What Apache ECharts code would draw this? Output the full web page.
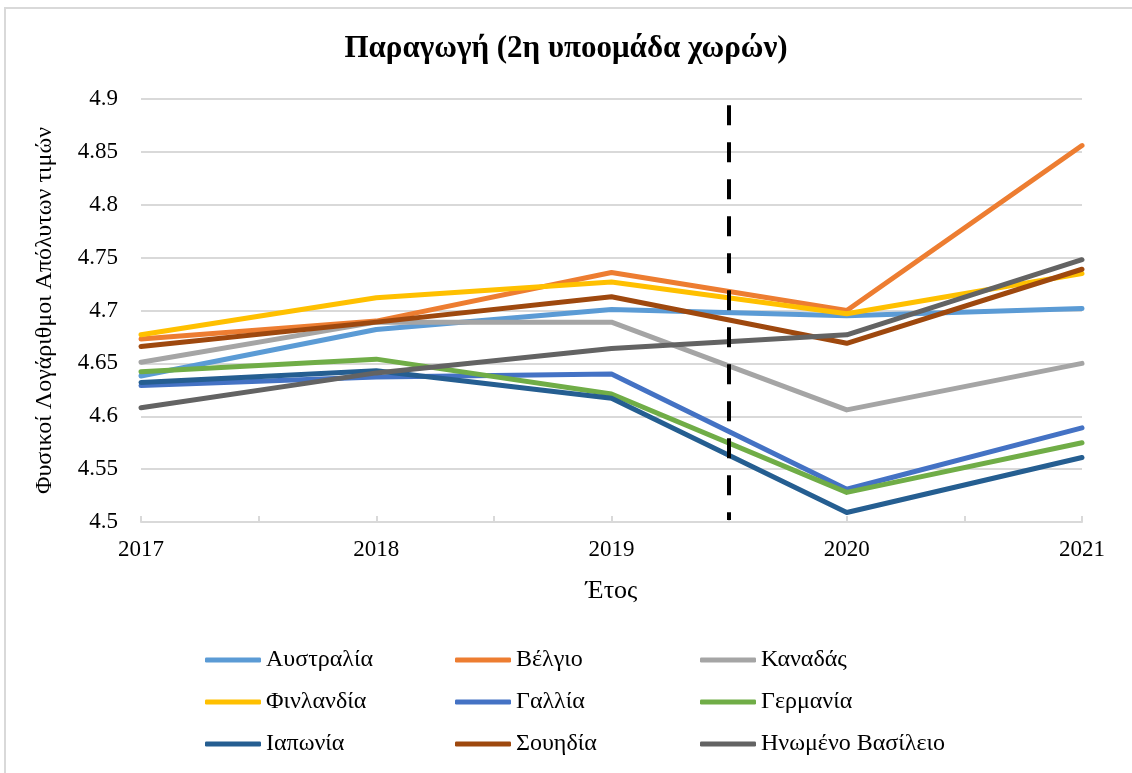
<!DOCTYPE html>
<html>
<head>
<meta charset="utf-8">
<script src="https://cdn.jsdelivr.net/npm/echarts@6/dist/echarts.min.js"></script>
<style>
    html, body { margin: 0; padding: 0; background: #fff; }
    #chart { width: 1132px; height: 773px; }
</style>
</head>
<body>
<div id="chart"></div>
<script>
var years = [2017, 2018, 2019, 2020, 2021];
var breakYear = 2019.5;

var australia = [4.638, 4.682, 4.701, 4.695, 4.702];
var belgium   = [4.673, 4.690, 4.736, 4.700, 4.856];
var canada    = [4.651, 4.689, 4.689, 4.606, 4.650];
var finland   = [4.677, 4.712, 4.727, 4.697, 4.735];
var france    = [4.629, 4.637, 4.640, 4.531, 4.589];
var germany   = [4.642, 4.654, 4.621, 4.528, 4.575];
var japan     = [4.632, 4.643, 4.617, 4.509, 4.561];
var sweden    = [4.666, 4.689, 4.713, 4.669, 4.739];
var uk        = [4.608, 4.641, 4.664, 4.677, 4.748];

var names  = ['Αυστραλία','Βέλγιο','Καναδάς','Φινλανδία','Γαλλία','Γερμανία','Ιαπωνία','Σουηδία','Ηνωμένο Βασίλειο'];
var values = [australia, belgium, canada, finland, france, germany, japan, sweden, uk];
var colors = ['#5B9BD5','#ED7D31','#A5A5A5','#FFC000','#4472C4','#70AD47','#255E91','#9E480E','#636363'];

var font = 'Liberation Serif';

function pairs(arr){
    return years.map(function(y, i){ return [y, arr[i]]; });
}

var series = names.map(function(n, i){
    return {
        name: n,
        type: 'line',
        data: pairs(values[i]),
        showSymbol: false,
        symbol: 'none',
        lineStyle: { width: 5, color: colors[i], cap: 'round', join: 'round' },
        itemStyle: { color: colors[i] },
        z: 2
    };
});

// dashed break line between 2019 and 2020
series[0].markLine = {
    silent: true,
    symbol: 'none',
    label: { show: false },
    lineStyle: { color: '#000', width: 4, type: [20, 17] },
    data: [[{ coord: [breakYear, 4.894] }, { coord: [breakYear, 4.502] }]]
};

function legendCol(items, left){
    return {
        orient: 'vertical',
        left: left,
        top: 648,
        padding: 0,
        itemWidth: 56,
        itemHeight: 5,
        itemGap: 18,
        icon: 'roundRect',
        data: items,
        textStyle: { fontFamily: font, fontSize: 24, color: '#000', padding: [0, 0, 0, 0] }
    };
}

var option = {
    animation: false,
    graphic: [{
        type: 'rect',
        shape: { x: 5, y: 8, width: 1140, height: 790 },
        style: { fill: 'none', stroke: '#d9d9d9', lineWidth: 2 },
        silent: true
    }],
    title: {
        text: 'Παραγωγή (2η υποομάδα χωρών)',
        left: 'center',
        top: 28,
        textStyle: { fontFamily: font, fontSize: 31, fontWeight: 'bold', color: '#000' }
    },
    legend: [
        legendCol(['Αυστραλία','Φινλανδία','Ιαπωνία'], 205),
        legendCol(['Βέλγιο','Γαλλία','Σουηδία'], 455),
        legendCol(['Καναδάς','Γερμανία','Ηνωμένο Βασίλειο'], 700)
    ],
    grid: { left: 141, right: 50, top: 99, bottom: 251, containLabel: false },
    xAxis: {
        type: 'value',
        min: 2017,
        max: 2021,
        interval: 0.5,
        name: 'Έτος',
        nameLocation: 'middle',
        nameGap: 56,
        nameTextStyle: { fontFamily: font, fontSize: 26, color: '#000', verticalAlign: 'top' },
        axisLine: { lineStyle: { color: '#d9d9d9', width: 2 } },
        axisTick: { show: true, inside: true, length: 6, lineStyle: { color: '#d9d9d9', width: 2 } },
        splitLine: { show: false },
        axisLabel: {
            fontFamily: font, fontSize: 23, color: '#000', margin: 16,
            formatter: function(v){ return v % 1 === 0 ? String(v) : ''; }
        }
    },
    yAxis: {
        type: 'value',
        min: 4.5,
        max: 4.9,
        interval: 0.05,
        name: 'Φυσικοί Λογάριθμοι Απόλυτων τιμών',
        nameLocation: 'middle',
        nameGap: 84,
        nameTextStyle: { fontFamily: font, fontSize: 24, color: '#000' },
        axisLine: { show: false },
        axisTick: { show: false },
        splitLine: { lineStyle: { color: '#d9d9d9', width: 2 } },
        axisLabel: {
            fontFamily: font, fontSize: 23, color: '#000', margin: 23,
            formatter: function(v){ return String(parseFloat(v.toFixed(2))); }
        }
    },
    series: series
};

var myChart = echarts.init(document.getElementById('chart'));
myChart.setOption(option);
</script>
</body>
</html>
